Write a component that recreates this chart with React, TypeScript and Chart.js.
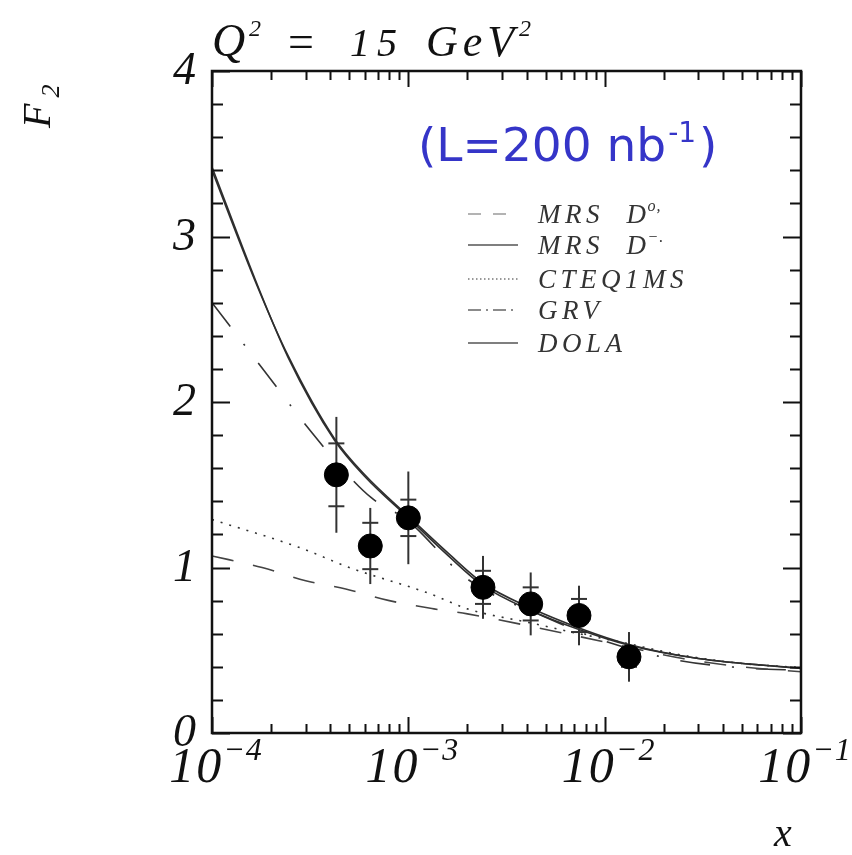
import React, { useEffect, useRef } from "react";
import { Chart, registerables } from "chart.js";

Chart.register(...registerables);

// ---------- data ----------
const pointX = [4.3e-4, 6.4e-4, 1.0e-3, 2.4e-3, 4.2e-3, 7.4e-3, 1.33e-2];
const pointF2 = [1.56, 1.13, 1.3, 0.88, 0.78, 0.71, 0.46];
const statErr = [0.19, 0.14, 0.11, 0.1, 0.1, 0.1, 0.06];
const totalErr = [0.35, 0.23, 0.28, 0.19, 0.19, 0.18, 0.15];

const mrsD0X = [1e-4, 1.8e-4, 3e-4, 4.8e-4, 8e-4, 1.35e-3, 2e-3, 4e-3, 1e-2, 2.5e-2, 5e-2, 1e-1];
const mrsD0Y = [1.07, 1.0, 0.92, 0.87, 0.8, 0.75, 0.72, 0.65, 0.55, 0.45, 0.4, 0.37];

const mrsDmX = [1e-4, 1.66e-4, 2.44e-4, 4.2e-4, 6e-4, 1e-3, 1.6e-3, 2.4e-3, 4.2e-3, 7.4e-3, 1.33e-2, 3e-2, 1e-1];
const mrsDmY = [3.42, 2.74, 2.27, 1.77, 1.55, 1.3, 1.07, 0.89, 0.74, 0.625, 0.53, 0.45, 0.39];

const cteqX = [1e-4, 2.8e-4, 5e-4, 1.3e-3, 2e-3, 4.2e-3, 7.4e-3, 1.2e-2, 2.5e-2, 5e-2, 1e-1];
const cteqY = [1.29, 1.12, 1.0, 0.84, 0.75, 0.665, 0.6, 0.55, 0.47, 0.42, 0.395];

const grvX = [1e-4, 1.84e-4, 3.2e-4, 5e-4, 6.5e-4, 1e-3, 2e-3, 5e-3, 1e-2, 2.35e-2, 5.6e-2, 1e-1];
const grvY = [2.6, 2.19, 1.82, 1.55, 1.42, 1.28, 0.93, 0.7, 0.555, 0.44, 0.39, 0.38];

const dolaX = [1e-4, 1.66e-4, 2.44e-4, 4.2e-4, 6e-4, 1e-3, 1.6e-3, 2.4e-3, 4.2e-3, 7.4e-3, 1.33e-2, 3e-2, 1e-1];
const dolaY = [3.4, 2.73, 2.28, 1.78, 1.56, 1.31, 1.085, 0.905, 0.755, 0.635, 0.535, 0.45, 0.39];

const legendNames = ["MRS  D", "MRS  D", "CTEQ1MS", "GRV", "DOLA"];
const legendSups = ["o,", "\u2212.", "", "", ""];

const yTickValues = [0, 1, 2, 3, 4];
const yTickLabels = ["0", "1", "2", "3", "4"];
const xTickValues = [1e-4, 1e-3, 1e-2, 1e-1];
const xTickBase = ["10", "10", "10", "10"];
const xTickExp = ["\u22124", "\u22123", "\u22122", "\u22121"];

const titleText = ["Q", "2", "=", "15", "GeV", "2"];
const lumiText = ["(L=200 nb", "-1", ")"];
const yAxisTitle = ["F", "2"];
const xAxisTitle = "x";

// ---------- styles ----------
const SERIF = "'Liberation Serif', 'DejaVu Serif', serif";
const SANS = "'DejaVu Sans', Verdana, sans-serif";
const LINE = "#2e2e2e";

const curveStyles = [
  { dash: [22, 20], color: "#444" },
  { dash: [], color: LINE },
  { dash: [2, 7], color: "#333" },
  { dash: [30, 22, 2, 22], color: "#333" },
  { dash: [], color: LINE },
];
const legendSample = [
  { dash: [13, 12], color: "#9a9a9a" },
  { dash: [], color: "#555" },
  { dash: [1.5, 2.5], color: "#777" },
  { dash: [13, 5, 2, 5], color: "#666" },
  { dash: [], color: "#555" },
];

const toXY = (xs: number[], ys: number[]) => xs.map((x, i) => ({ x, y: ys[i] }));

const setLS = (ctx: any, v: string) => {
  ctx.letterSpacing = v;
};

const decorPlugin = {
  id: "decor",
  beforeDatasetsDraw(chart: any) {
    const { ctx, scales } = chart;
    const xs = scales.x;
    const ys = scales.y;
    ctx.save();
    ctx.strokeStyle = "#333";
    ctx.lineWidth = 2;
    for (let i = 0; i < pointX.length; i++) {
      const px = xs.getPixelForValue(pointX[i]);
      const t = ys.getPixelForValue(pointF2[i] + totalErr[i]);
      const b = ys.getPixelForValue(pointF2[i] - totalErr[i]);
      ctx.beginPath();
      ctx.moveTo(px, t);
      ctx.lineTo(px, b);
      ctx.stroke();
      for (const s of [1, -1]) {
        const py = ys.getPixelForValue(pointF2[i] + s * statErr[i]);
        ctx.beginPath();
        ctx.moveTo(px - 8, py);
        ctx.lineTo(px + 8, py);
        ctx.stroke();
      }
    }
    ctx.restore();
  },
  afterDraw(chart: any) {
    const { ctx, chartArea, scales } = chart;
    const { left, right, top, bottom } = chartArea;
    const xs = scales.x;
    const ys = scales.y;
    ctx.save();

    // frame
    ctx.strokeStyle = "#111";
    ctx.lineWidth = 2.5;
    ctx.setLineDash([]);
    ctx.strokeRect(left, top, right - left, bottom - top);

    // y ticks (inward, both sides)
    ctx.lineWidth = 2;
    for (let i = 0; i <= 20; i++) {
      const v = i * 0.2;
      const py = Math.round(ys.getPixelForValue(v)) + 0.5;
      const len = i % 5 === 0 ? 18 : 11;
      ctx.beginPath();
      ctx.moveTo(left, py);
      ctx.lineTo(left + len, py);
      ctx.moveTo(right, py);
      ctx.lineTo(right - len, py);
      ctx.stroke();
    }
    // x ticks (inward, both sides)
    for (let d = -4; d <= -1; d++) {
      for (let m = 1; m <= 9; m++) {
        const v = m * Math.pow(10, d);
        if (v > 0.1000001) continue;
        const px = Math.round(xs.getPixelForValue(v)) + 0.5;
        const len = m === 1 ? 16 : 9;
        ctx.beginPath();
        ctx.moveTo(px, bottom);
        ctx.lineTo(px, bottom - len);
        ctx.moveTo(px, top);
        ctx.lineTo(px, top + len);
        ctx.stroke();
      }
    }

    ctx.fillStyle = "#111";
    // y tick labels
    ctx.font = `italic 46px ${SERIF}`;
    ctx.textAlign = "right";
    ctx.textBaseline = "middle";
    yTickValues.forEach((v, i) => {
      ctx.fillText(yTickLabels[i], 196, ys.getPixelForValue(v) + 1);
    });

    // x tick labels
    ctx.textAlign = "left";
    ctx.textBaseline = "alphabetic";
    xTickValues.forEach((v, i) => {
      ctx.font = `italic 50px ${SERIF}`;
      setLS(ctx, "2px");
      const wb = ctx.measureText(xTickBase[i]).width;
      ctx.font = `italic 32px ${SERIF}`;
      setLS(ctx, "1px");
      const we = ctx.measureText(xTickExp[i]).width;
      const total = wb + we;
      const x0 = xs.getPixelForValue(v) + 4 - total / 2;
      ctx.font = `italic 50px ${SERIF}`;
      setLS(ctx, "2px");
      ctx.fillText(xTickBase[i], x0, 782);
      ctx.font = `italic 32px ${SERIF}`;
      setLS(ctx, "1px");
      ctx.fillText(xTickExp[i], x0 + wb, 760);
    });
    setLS(ctx, "0px");

    // title Q^2 = 15 GeV^2
    ctx.font = `italic 46px ${SERIF}`;
    ctx.fillText(titleText[0], 212, 56);
    ctx.font = `italic 24px ${SERIF}`;
    ctx.fillText(titleText[1], 249, 36);
    ctx.font = `46px ${SERIF}`;
    ctx.fillText(titleText[2], 288, 57);
    ctx.font = `italic 40px ${SERIF}`;
    setLS(ctx, "7px");
    ctx.fillText(titleText[3], 350, 56);
    ctx.font = `italic 44px ${SERIF}`;
    setLS(ctx, "5px");
    ctx.fillText(titleText[4], 426, 56);
    setLS(ctx, "0px");
    ctx.font = `italic 24px ${SERIF}`;
    ctx.fillText(titleText[5], 519, 36);

    // y axis title F_2 (rotated)
    ctx.save();
    ctx.translate(50, 128);
    ctx.rotate(-Math.PI / 2);
    ctx.font = `italic 40px ${SERIF}`;
    ctx.fillText(yAxisTitle[0], 0, 0);
    const fw = ctx.measureText(yAxisTitle[0]).width;
    ctx.font = `italic 26px ${SERIF}`;
    ctx.fillText(yAxisTitle[1], fw + 6, 9);
    ctx.restore();

    // x axis title
    ctx.font = `italic 40px ${SERIF}`;
    ctx.fillText(xAxisTitle, 774, 846);

    // luminosity note
    ctx.fillStyle = "#3535c8";
    ctx.font = `47px ${SANS}`;
    ctx.fillText(lumiText[0], 418, 161);
    const lw = ctx.measureText(lumiText[0]).width;
    ctx.font = `28px ${SANS}`;
    ctx.fillText(lumiText[1], 418 + lw + 2, 142);
    const sw = ctx.measureText(lumiText[1]).width;
    ctx.font = `47px ${SANS}`;
    ctx.fillText(lumiText[2], 418 + lw + sw + 5, 161);

    // legend
    const rows = [214, 245, 279, 310, 343];
    ctx.fillStyle = "#333";
    legendNames.forEach((name, i) => {
      const y = rows[i];
      ctx.strokeStyle = legendSample[i].color;
      ctx.lineWidth = 1.6;
      ctx.setLineDash(legendSample[i].dash);
      ctx.beginPath();
      ctx.moveTo(468, y);
      ctx.lineTo(i === 0 ? 506 : 518, y);
      ctx.stroke();
      ctx.setLineDash([]);
      ctx.font = `italic 27px ${SERIF}`;
      setLS(ctx, "4.5px");
      ctx.fillText(name, 538, y + 9);
      const nw = ctx.measureText(name).width;
      if (legendSups[i]) {
        ctx.font = `italic 16px ${SERIF}`;
        setLS(ctx, "1px");
        ctx.fillText(legendSups[i], 538 + nw - 3, y - 3);
      }
      setLS(ctx, "0px");
    });

    ctx.restore();
  },
};

export default function App() {
  const canvasRef = useRef<HTMLCanvasElement | null>(null);

  useEffect(() => {
    const canvas = canvasRef.current;
    if (!canvas) return;
    const series = [
      toXY(mrsD0X, mrsD0Y),
      toXY(mrsDmX, mrsDmY),
      toXY(cteqX, cteqY),
      toXY(grvX, grvY),
      toXY(dolaX, dolaY),
    ];
    const labels = ["MRS D0", "MRS D-", "CTEQ1MS", "GRV", "DOLA"];
    const curveSets = series.map((data, i) => ({
      label: labels[i],
      data,
      borderColor: curveStyles[i].color,
      borderDash: curveStyles[i].dash,
      borderWidth: 1.6,
      pointRadius: 0,
      fill: false,
      cubicInterpolationMode: "monotone" as const,
      order: 2,
    }));
    const chart = new Chart(canvas, {
      type: "line",
      data: {
        datasets: [
          ...curveSets,
          {
            label: "data",
            data: toXY(pointX, pointF2),
            showLine: false,
            pointRadius: 12,
            pointStyle: "circle",
            pointBackgroundColor: "#000",
            pointBorderColor: "#000",
            pointBorderWidth: 1,
            order: 0,
          } as any,
        ],
      },
      options: {
        animation: false,
        responsive: false,
        devicePixelRatio: 1,
        layout: { padding: { left: 212, right: 51, top: 71, bottom: 122 } },
        plugins: { legend: { display: false }, tooltip: { enabled: false } },
        scales: {
          x: { type: "logarithmic", min: 1e-4, max: 1e-1, display: false },
          y: { type: "linear", min: 0, max: 4, display: false },
        },
      },
      plugins: [decorPlugin],
    });
    return () => chart.destroy();
  }, []);

  return (
    <div style={{ position: "fixed", left: 0, top: 0, width: 852, height: 855, background: "#fff" }}>
      <canvas ref={canvasRef} width={852} height={855} style={{ width: 852, height: 855 }} />
    </div>
  );
}
